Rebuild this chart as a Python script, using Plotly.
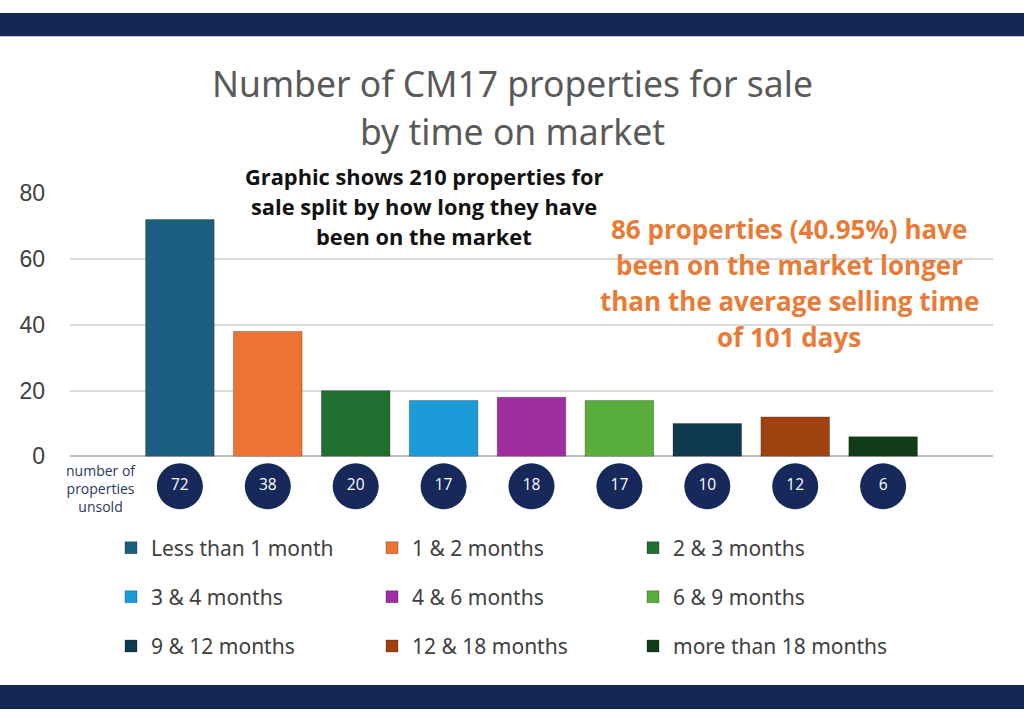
import plotly.graph_objects as go

categories = ["Less than 1 month", "1 & 2 months", "2 & 3 months",
              "3 & 4 months", "4 & 6 months", "6 & 9 months",
              "9 & 12 months", "12 & 18 months", "more than 18 months"]
values = [72, 38, 20, 17, 18, 17, 10, 12, 6]
colors = ["#1b5e80", "#ec7433", "#1f6f30", "#1b9bd7", "#a12ea0",
          "#58ad3b", "#0e3a50", "#a0420f", "#103d17"]
y_ticks = [0, 20, 40, 60, 80]
title_lines = ["Number of CM17 properties for sale", "by time on market"]
note_lines = ["Graphic shows 210 properties for",
              "sale split by how long they have",
              "been on the market"]
orange_lines = ["86 properties (40.95%) have",
                "been on the market longer",
                "than the average selling time",
                "of 101 days"]

NAVY = "#152555"
W, H = 1024, 722

def py(p):
    return 1 - p / H

fig = go.Figure()
legend_ids = ["legend", "legend2", "legend3"]
for i, (c, v, col) in enumerate(zip(categories, values, colors)):
    fig.add_trace(go.Bar(
        x=[c], y=[v], name=c, marker=dict(color=col, line=dict(color="rgba(0,0,0,0.25)", width=1)),
        width=0.78, legend=legend_ids[i // 3], hoverinfo="x+y"))

fig.add_trace(go.Scatter(
    x=categories, y=[0.5] * len(values), yaxis="y2", mode="markers+text",
    marker=dict(size=46, color="#17285a"), text=[str(v) for v in values],
    textfont=dict(color="white", size=15.5, family="Open Sans"),
    textposition="middle center", showlegend=False, hoverinfo="skip"))

annotations = []
for k, t in enumerate(title_lines):
    annotations.append(dict(text=t, x=0.5, y=py([73, 122][k]), xref="paper", yref="paper",
                            showarrow=False, xanchor="center", yanchor="middle",
                            font=dict(size=35.5, color="#595959", family="Noto Sans")))
for k, t in enumerate(note_lines):
    annotations.append(dict(text="<b>%s</b>" % t, x=424 / W, y=py(170 + 31 * k), xref="paper", yref="paper",
                            showarrow=False, xanchor="center", yanchor="middle",
                            font=dict(size=21.8, color="#111111", family="Open Sans")))
for k, t in enumerate(orange_lines):
    annotations.append(dict(text="<b>%s</b>" % t, x=789 / W, y=py(224 + 37.5 * k), xref="paper", yref="paper",
                            showarrow=False, xanchor="center", yanchor="middle",
                            font=dict(size=26, color="#e97b36", family="Open Sans")))
annotations.append(dict(text="number of<br>properties<br>unsold", x=101 / W, y=py(493), xref="paper", yref="paper",
                        showarrow=False, xanchor="center", yanchor="middle", align="center",
                        font=dict(size=14, color="#2a3766", family="Open Sans")))

legend_font = dict(size=21, color="#404040", family="Noto Sans")
legend_common = dict(orientation="h", xanchor="left", yanchor="middle", x=111 / W,
                     entrywidth=216, entrywidthmode="pixels", font=legend_font,
                     bgcolor="rgba(0,0,0,0)", borderwidth=0, traceorder="normal")

fig.update_layout(
    width=W, height=H,
    margin=dict(l=0, r=0, t=0, b=0),
    paper_bgcolor="white", plot_bgcolor="white",
    barmode="overlay",
    xaxis=dict(domain=[70 / W, 993 / W], type="category", categoryorder="array",
               categoryarray=categories, range=[-1.25, 9.25], showticklabels=False,
               showgrid=False, zeroline=False, showline=False, fixedrange=True),
    yaxis=dict(domain=[py(460), py(187)], range=[0, 80], tickvals=y_ticks,
               showgrid=True, gridcolor="#d9d9d9", gridwidth=1.5, zeroline=True,
               zerolinecolor="#bfbfbf", zerolinewidth=1.5, showline=False,
               ticklabelstandoff=24,
               tickfont=dict(size=23, color="#404040", family="Liberation Sans, Arial")),
    yaxis2=dict(domain=[0.28, 0.36], range=[0, 1], visible=False, anchor="x"),
    legend=dict(legend_common, y=py(555)),
    legend2=dict(legend_common, y=py(606)),
    legend3=dict(legend_common, y=py(657)),
    annotations=annotations,
    shapes=[
        dict(type="rect", xref="paper", yref="paper", x0=0, x1=1, y0=py(24), y1=1,
             fillcolor=NAVY, line=dict(width=0), layer="above"),
        dict(type="rect", xref="paper", yref="paper", x0=0, x1=1, y0=0, y1=py(697),
             fillcolor=NAVY, line=dict(width=0), layer="above"),
    ],
    showlegend=True,
)

fig.write_html(
    "out.html",
    config={"displayModeBar": False},
    post_script=("var gd=document.getElementById('{plot_id}');"
                 "gd.style.position='fixed';gd.style.top='0px';gd.style.left='0px';"
                 "document.body.style.margin='0';document.documentElement.style.overflow='hidden';"),
)
